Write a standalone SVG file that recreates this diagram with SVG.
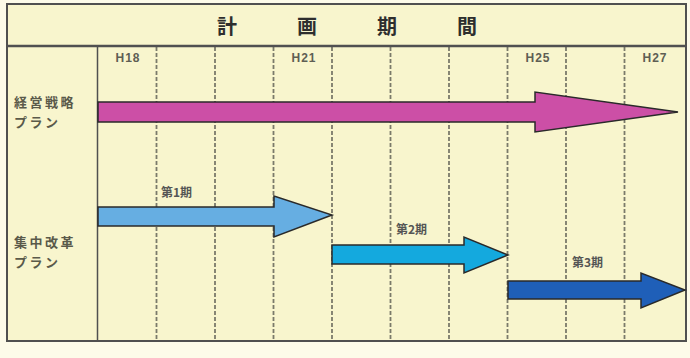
<svg xmlns="http://www.w3.org/2000/svg" width="690" height="358" viewBox="0 0 690 358">
<style>
.grid{stroke:#7a7a6a;stroke-width:1.8;stroke-dasharray:4 2;fill:none}
.frame{stroke:#505050;fill:none}
.hdr{font-family:"Noto Sans CJK JP","Noto Sans",sans-serif;font-size:20px;font-weight:bold;fill:#2e2e2e;text-anchor:middle}
.yr{font-family:"Liberation Sans",Arial,sans-serif;font-size:12px;font-weight:bold;fill:#5e5e54;text-anchor:middle;letter-spacing:1px}
.lbl{font-family:"Noto Sans CJK JP","Noto Sans",sans-serif;font-size:13px;font-weight:bold;fill:#5a5a4a;letter-spacing:2.5px}
.per{font-family:"Noto Sans CJK JP","Noto Sans",sans-serif;font-size:12px;fill:#555;font-weight:bold}
.arrow{stroke:#2a2a2a;stroke-width:1.5;stroke-linejoin:miter}
</style>
<rect x="0" y="0" width="690" height="358" fill="#fdfbe9"/>
<rect x="7" y="4" width="679" height="337" fill="#f8f5cd"/>
<g id="grid">
<line class="grid" x1="156.5" y1="47" x2="156.5" y2="341"/>
<line class="grid" x1="215" y1="47" x2="215" y2="341"/>
<line class="grid" x1="273.5" y1="47" x2="273.5" y2="341"/>
<line class="grid" x1="332" y1="47" x2="332" y2="341"/>
<line class="grid" x1="390.5" y1="47" x2="390.5" y2="341"/>
<line class="grid" x1="449" y1="47" x2="449" y2="341"/>
<line class="grid" x1="507.5" y1="47" x2="507.5" y2="341"/>
<line class="grid" x1="566" y1="47" x2="566" y2="341"/>
<line class="grid" x1="624.5" y1="47" x2="624.5" y2="341"/>
</g>
<g id="frame">
<rect class="frame" x="7" y="4" width="679" height="337" stroke-width="2"/>
<line class="frame" x1="7" y1="46" x2="686" y2="46" stroke-width="2.5"/>
<line class="frame" x1="97.5" y1="46" x2="97.5" y2="341" stroke-width="1.5"/>
</g>
<g id="header">
<text class="hdr" x="227" y="34">計</text>
<text class="hdr" x="307" y="34">画</text>
<text class="hdr" x="387" y="34">期</text>
<text class="hdr" x="467" y="34">間</text>
</g>
<g id="years">
<text class="yr" x="128" y="62">H18</text>
<text class="yr" x="304" y="62">H21</text>
<text class="yr" x="538" y="62">H25</text>
<text class="yr" x="655" y="62">H27</text>
</g>
<g id="row-labels">
<text class="lbl" x="14" y="107">経営戦略</text>
<text class="lbl" x="14" y="127">プラン</text>
<text class="lbl" x="14" y="247">集中改革</text>
<text class="lbl" x="14" y="267">プラン</text>
</g>
<g id="connectors">
<polygon id="arrow-keiei" class="arrow" fill="#cc4fa6" points="98,102 535,102 535,92 678,112 535,132 535,122 98,122"/>
<polygon id="arrow-ki1" class="arrow" fill="#66aee2" points="98,207 274,207 274,196 332,215 274,237 274,226 98,226"/>
<polygon id="arrow-ki2" class="arrow" fill="#14a9de" points="332,245 464,245 464,237 508,255 464,273 464,264 332,264"/>
<polygon id="arrow-ki3" class="arrow" fill="#1f5fb8" points="508,281 641,281 641,273 685,290 641,308 641,299 508,299"/>
</g>
<g id="periods">
<text class="per" x="161" y="197">第1期</text>
<text class="per" x="396" y="234">第2期</text>
<text class="per" x="572" y="267">第3期</text>
</g>
</svg>
